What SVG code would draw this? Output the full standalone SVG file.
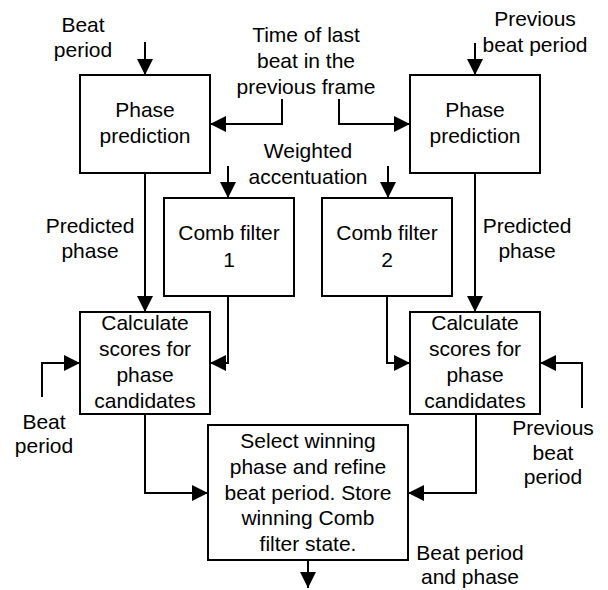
<svg xmlns="http://www.w3.org/2000/svg" width="608" height="590" viewBox="0 0 608 590">
<style>
.box{fill:#fff;stroke:#000;stroke-width:2}
.t{font-family:"Liberation Sans",Arial,sans-serif;font-size:21px;fill:#000;text-anchor:middle}
.c{fill:none;stroke:#000;stroke-width:2;marker-end:url(#ah)}
</style>
<defs>
<marker id="ah" markerUnits="userSpaceOnUse" markerWidth="16" markerHeight="16" refX="16" refY="8" orient="auto">
<path d="M0,0 L16,8 L0,16 z" fill="#000"/>
</marker>
</defs>
<rect width="608" height="590" fill="#fff"/>
<g id="labels">
<text class="t" x="83" y="32">Beat</text>
<text class="t" x="83" y="57">period</text>
<text class="t" x="306" y="42">Time of last</text>
<text class="t" x="306" y="68">beat in the</text>
<text class="t" x="306" y="94">previous frame</text>
<text class="t" x="535" y="26">Previous</text>
<text class="t" x="535" y="52">beat period</text>
<text class="t" x="308" y="158">Weighted</text>
<text class="t" x="308" y="184">accentuation</text>
<text class="t" x="90" y="233">Predicted</text>
<text class="t" x="90" y="258">phase</text>
<text class="t" x="527" y="233">Predicted</text>
<text class="t" x="527" y="258">phase</text>
<text class="t" x="44" y="429">Beat</text>
<text class="t" x="44" y="453">period</text>
<text class="t" x="553" y="435">Previous</text>
<text class="t" x="553" y="460">beat</text>
<text class="t" x="553" y="484">period</text>
<text class="t" x="470" y="560">Beat period</text>
<text class="t" x="470" y="584">and phase</text>
</g>
<g id="connectors">
<path class="c" d="M145,42 V75"/>
<path class="c" d="M282,99 V124 H210"/>
<path class="c" d="M339,99 V124 H410"/>
<path class="c" d="M475,43 V75"/>
<path class="c" d="M228,166 V198"/>
<path class="c" d="M388,166 V198"/>
<path class="c" d="M145,173 V312"/>
<path class="c" d="M475,173 V312"/>
<path class="c" d="M228,296 V363 H210"/>
<path class="c" d="M387,296 V363 H410"/>
<path class="c" d="M42,397 V363 H80"/>
<path class="c" d="M582,408 V363 H540"/>
<path class="c" d="M145,414 V493 H208"/>
<path class="c" d="M476,414 V493 H408"/>
<path class="c" d="M308,560 V588"/>
</g>
<g id="phase-prediction-1">
<rect class="box" x="80" y="75" width="130" height="98"/>
<text class="t" x="145" y="117">Phase</text>
<text class="t" x="145" y="143">prediction</text>
</g>
<g id="phase-prediction-2">
<rect class="box" x="410" y="75" width="130" height="98"/>
<text class="t" x="475" y="117">Phase</text>
<text class="t" x="475" y="143">prediction</text>
</g>
<g id="comb-filter-1">
<rect class="box" x="164" y="198" width="130" height="98"/>
<text class="t" x="229" y="240">Comb filter</text>
<text class="t" x="229" y="267">1</text>
</g>
<g id="comb-filter-2">
<rect class="box" x="322" y="198" width="130" height="98"/>
<text class="t" x="387" y="240">Comb filter</text>
<text class="t" x="387" y="267">2</text>
</g>
<g id="calc-scores-1">
<rect class="box" x="80" y="312" width="130" height="102"/>
<text class="t" x="145" y="330">Calculate</text>
<text class="t" x="145" y="356">scores for</text>
<text class="t" x="145" y="382">phase</text>
<text class="t" x="145" y="408">candidates</text>
</g>
<g id="calc-scores-2">
<rect class="box" x="410" y="312" width="130" height="102"/>
<text class="t" x="475" y="330">Calculate</text>
<text class="t" x="475" y="356">scores for</text>
<text class="t" x="475" y="382">phase</text>
<text class="t" x="475" y="408">candidates</text>
</g>
<g id="select-winning">
<rect class="box" x="208" y="425" width="200" height="135"/>
<text class="t" x="308" y="448">Select winning</text>
<text class="t" x="308" y="474">phase and refine</text>
<text class="t" x="308" y="500">beat period. Store</text>
<text class="t" x="308" y="525">winning Comb</text>
<text class="t" x="308" y="551">filter state.</text>
</g>
</svg>
